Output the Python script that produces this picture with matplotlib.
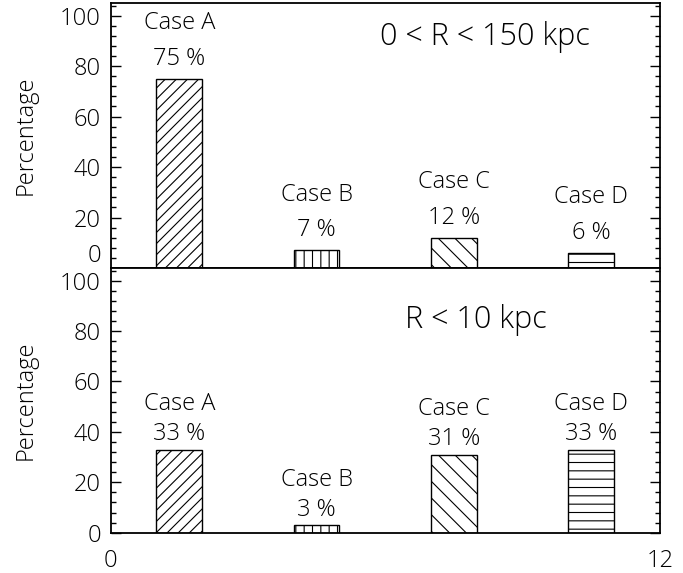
import matplotlib
matplotlib.use('Agg')
import matplotlib.pyplot as plt
from matplotlib.ticker import MultipleLocator, FixedLocator

# ---- data ----
cases = ['Case A', 'Case B', 'Case C', 'Case D']
bar_starts = [1, 4, 7, 10]
pct_all_r = [75, 7, 12, 6]        # 0 < R < 150 kpc
pct_inner = [33, 3, 31, 33]       # R < 10 kpc
panel_titles = ['0 < R < 150 kpc', 'R < 10 kpc']
yticks = [0, 20, 40, 60, 80, 100]
xticks = [0, 12]
xtick_labels = ['0', '12']

# ---- style ----
hatches = ['///', '||', '\\\\', '--']
FONT = ['Open Sans', 'DejaVu Sans']
plt.rcParams['font.family'] = FONT
plt.rcParams['hatch.linewidth'] = 0.8
TW = 300
FS = 17

fig = plt.figure(figsize=(6.83, 5.73), dpi=100)
ax_top = fig.add_axes([0.1618, 0.5323, 0.8045, 0.4625])
ax_bot = fig.add_axes([0.1618, 0.0703, 0.8045, 0.4620])

panels = [
    (ax_top, pct_all_r, panel_titles[0], (8.18, 91.5), 8.0, 22.0),
    (ax_bot, pct_inner, panel_titles[1], (7.99, 84.3), 6.0, 18.0),
]

for ax, vals, title, tpos, off_pct, off_case in panels:
    bars = ax.bar(bar_starts, vals, width=1.0, align='edge', fill=False,
                  edgecolor='black', linewidth=1.0)
    for b, h in zip(bars, hatches):
        b.set_hatch(h)
    for x0, v, c in zip(bar_starts, vals, cases):
        ax.text(x0 + 0.5, v + off_pct, f'{v} %', ha='center', va='center',
                fontsize=FS, fontweight=TW)
        ax.text(x0 + 0.5, v + off_case, c, ha='center', va='center',
                fontsize=FS, fontweight=TW)
    ax.text(tpos[0], tpos[1], title, ha='center', va='center',
            fontsize=22, fontweight=TW)

    ax.set_xlim(0, 12)
    ax.set_ylim(0, 105)
    ax.yaxis.set_major_locator(FixedLocator(yticks))
    ax.yaxis.set_minor_locator(MultipleLocator(4))
    ax.set_yticklabels([str(t) for t in yticks], fontsize=FS, fontweight=TW)
    ax.tick_params(axis='y', which='major', direction='in', length=7.2,
                   width=1.0, left=True, right=True, pad=7)
    ax.tick_params(axis='y', which='minor', direction='in', length=3.6,
                   width=1.0, left=True, right=True)
    ax.set_ylabel('Percentage', fontsize=FS, fontweight=TW)
    ax.yaxis.set_label_coords(-0.133, 0.5)
    for s in ax.spines.values():
        s.set_linewidth(1.3)

ax_top.set_xticks([])
ax_bot.set_xticks(xticks)
ax_bot.set_xticklabels(xtick_labels, fontsize=FS, fontweight=TW)
ax_bot.tick_params(axis='x', length=0, pad=12)

# raise the "0" label of the top panel, as in the reference
ax_top.yaxis.get_major_ticks()[0].label1.set_verticalalignment('bottom')

fig.savefig('out.png', dpi=100)
